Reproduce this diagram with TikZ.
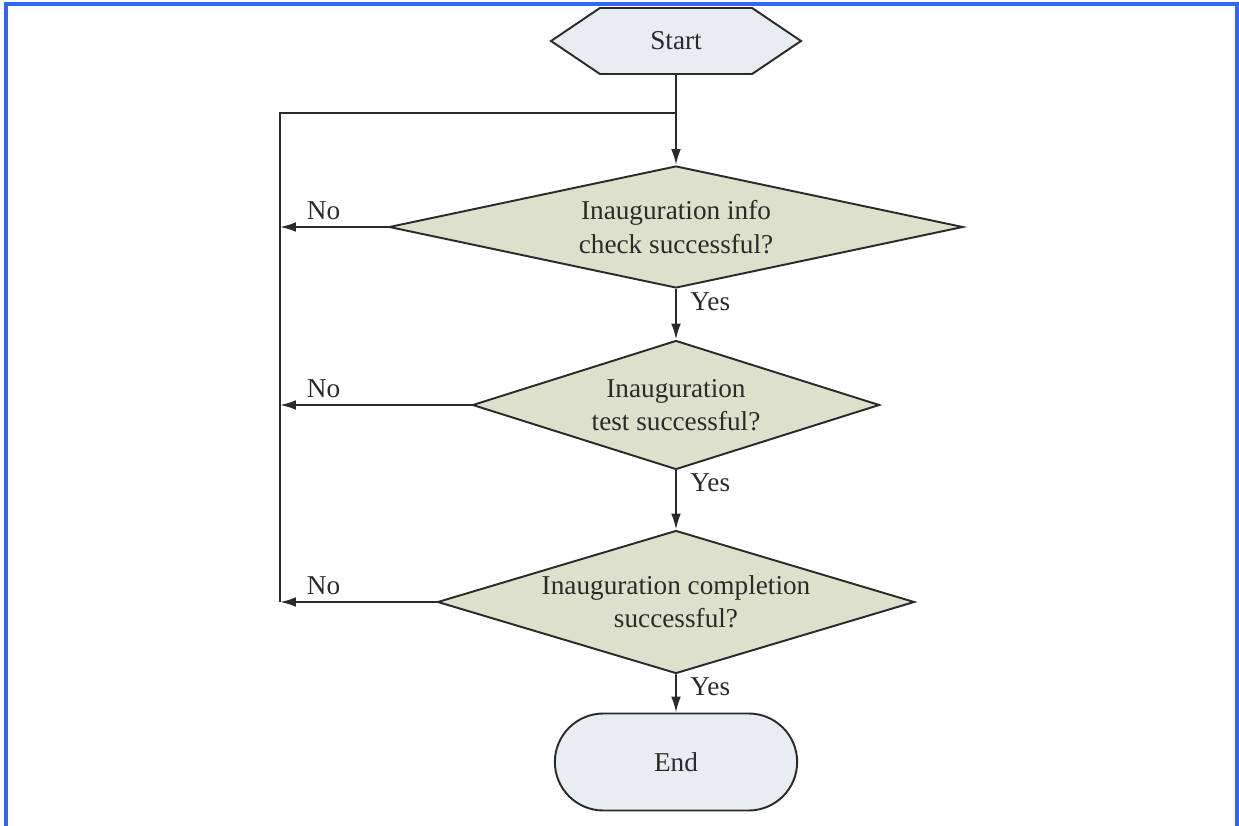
\documentclass[tikz,border=0pt]{standalone}
\usepackage{fontspec}
\setmainfont{Liberation Serif}
\usetikzlibrary{shapes.geometric,shapes.misc,shapes.symbols,arrows.meta}

\definecolor{termfill}{HTML}{E8ECF3}
\definecolor{decfill}{HTML}{DDE1CB}
\definecolor{ink}{HTML}{2A2A2A}
\definecolor{frameblue}{HTML}{3366F5}

\tikzset{
  every node/.style={font=\fontsize{15.5}{19}\selectfont, text=ink},
  flow/.style={draw=ink, line width=1.1pt},
  arr/.style={flow, -{Latex[length=9pt,width=5.5pt]}},
  decision/.style={diamond, draw=ink, line width=1.1pt, fill=decfill, inner sep=0pt, align=center},
  startbox/.style={signal, signal to=west and east, signal pointer angle=68, draw=ink, line width=1.1pt, fill=termfill, minimum width=5cm, minimum height=1.32cm, inner sep=0pt},
  endbox/.style={rounded rectangle, draw=ink, line width=1.1pt, fill=termfill, minimum width=5.08cm, minimum height=1.94cm},
  yeslabel/.style={below right, inner sep=2pt, xshift=0.2cm, yshift=0.02cm},
  nolabel/.style={above right, inner sep=2pt, xshift=0.45cm, yshift=0.05cm},
}

\begin{document}
\begin{tikzpicture}
\useasboundingbox (0,0) rectangle (24.78,-16.52);
\draw[frameblue, line width=2pt] (0.12,-0.08) rectangle (24.74,-17.5);

\node[startbox] (start) at (13.52,-0.82) {Start};
\node[decision, aspect=4.70, minimum width=11.48cm, minimum height=2.44cm] (info) at (13.52,-4.54) {Inauguration info\\check successful?};
\node[decision, aspect=3.155, minimum width=8.14cm, minimum height=2.58cm] (test) at (13.52,-8.10) {Inauguration\\test successful?};
\node[decision, aspect=3.336, minimum width=9.54cm, minimum height=2.86cm] (compl) at (13.52,-12.04) {Inauguration completion\\successful?};
\node[endbox] (end) at (13.52,-15.24) {End};

\coordinate (join) at (13.52,-2.26);
\coordinate (loop) at (5.60,-2.26);
\coordinate (loopbot) at (5.60,-12.04);

% main path
\draw[flow] (start) -- (join);
\draw[arr] (join) -- (info);
\draw[arr] (info) -- node[yeslabel, pos=0] {Yes} (test);
\draw[arr] (test) -- node[yeslabel, pos=0] {Yes} (compl);
\draw[arr] (compl) -- node[yeslabel, pos=0] {Yes} (end);

% retry loop
\draw[flow] (join) -- (loop) -- (loopbot);
\draw[arr] (info.west) -- (info.west -| loop) node[nolabel] {No};
\draw[arr] (test.west) -- (test.west -| loop) node[nolabel] {No};
\draw[arr] (compl.west) -- (compl.west -| loop) node[nolabel] {No};
\end{tikzpicture}
\end{document}
